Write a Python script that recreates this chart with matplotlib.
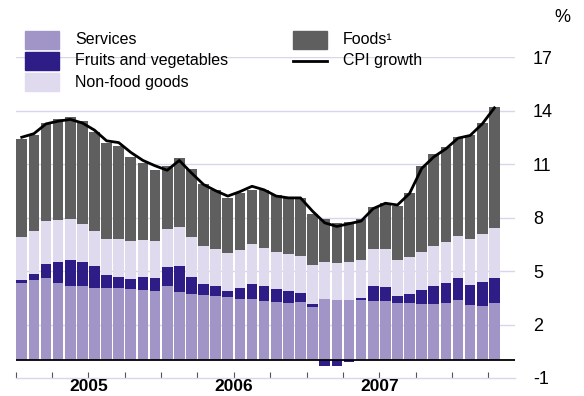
import numpy as np
import matplotlib
matplotlib.use("Agg")
import matplotlib.pyplot as plt
from matplotlib.patches import Rectangle
from matplotlib.lines import Line2D

plt.rcParams['font.family'] = ['Liberation Sans', 'DejaVu Sans']
plt.rcParams['axes.unicode_minus'] = False

##DATA## (Jan 2005 - Apr 2008, contributions in % points)
services = [4.34, 4.47, 4.62, 4.32, 4.17, 4.17, 4.07, 4.02, 4.07, 3.98, 3.94, 3.87,
            4.17, 3.83, 3.70, 3.64, 3.59, 3.55, 3.44, 3.44, 3.33, 3.27, 3.21, 3.27,
            2.99, 3.42, 3.36, 3.36, 3.36, 3.31, 3.31, 3.23, 3.21, 3.14, 3.14, 3.21,
            3.36, 3.07, 3.05, 3.20]
fruit_veg = [0.15, 0.37, 0.78, 1.16, 1.47, 1.36, 1.20, 0.78, 0.58, 0.58, 0.70, 0.73,
             1.06, 1.46, 0.97, 0.64, 0.58, 0.34, 0.62, 0.82, 0.84, 0.71, 0.68, 0.51,
             0.15, -0.32, -0.32, -0.13, 0.15, 0.84, 0.80, 0.36, 0.51, 0.79, 1.01, 1.13,
             1.22, 1.17, 1.34, 1.38]
nonfood = [2.39, 2.39, 2.41, 2.37, 2.25, 2.13, 2.00, 2.00, 2.12, 2.13, 2.09, 2.11,
           2.15, 2.15, 2.21, 2.11, 2.09, 2.11, 2.13, 2.23, 2.13, 2.09, 2.04, 2.05,
           2.19, 2.06, 2.10, 2.12, 2.10, 2.11, 2.11, 2.05, 2.04, 2.14, 2.26, 2.30,
           2.41, 2.56, 2.66, 2.84]
foods = [5.51, 5.41, 5.50, 5.65, 5.72, 5.74, 5.50, 5.39, 5.23, 4.71, 4.30, 3.96,
         3.52, 3.92, 3.83, 3.51, 3.27, 3.12, 3.16, 3.08, 3.23, 3.18, 3.14, 3.24,
         2.86, 2.43, 2.24, 2.28, 2.28, 2.34, 2.60, 3.00, 3.59, 4.81, 5.14, 5.32,
         5.50, 5.85, 6.26, 6.79]
cpi = [12.5, 12.7, 13.25, 13.4, 13.5, 13.3, 12.9, 12.3, 12.2, 11.65, 11.2, 10.9,
       10.65, 11.2, 10.5, 9.85, 9.5, 9.2, 9.45, 9.75, 9.55, 9.2, 9.1, 9.1,
       8.35, 7.7, 7.5, 7.65, 7.8, 8.5, 8.8, 8.7, 9.35, 10.75, 11.4, 11.85,
       12.45, 12.6, 13.25, 14.15]
years = ["2005", "2006", "2007"]
yticks = [-1, 2, 5, 8, 11, 14, 17]

c_serv = "#a194c7"
c_fv = "#2e1c87"
c_nf = "#dfdaee"
c_food = "#5f5f5f"
c_grid = "#d9d5ea"

fig = plt.figure(figsize=(5.84, 3.96), dpi=100)
ax = fig.add_axes([15.7 / 584, 1 - 378 / 396, (515 - 15.7) / 584, (378 - 57) / 396])

x = np.arange(len(services)) + 0.5
serv = np.array(services)
fv = np.array(fruit_veg)
nf = np.array(nonfood)
fd = np.array(foods)

# stack positives from zero, negatives below zero
fv_pos = np.where(fv > 0, fv, 0)
fv_neg = np.where(fv < 0, fv, 0)
w = 0.88
ax.bar(x, serv, width=w, color=c_serv, zorder=2)
ax.bar(x, fv_pos, width=w, bottom=serv, color=c_fv, zorder=2)
ax.bar(x, fv_neg, width=w, color=c_fv, zorder=2)
ax.bar(x, nf, width=w, bottom=serv + fv_pos, color=c_nf, zorder=2)
ax.bar(x, fd, width=w, bottom=serv + fv_pos + nf, color=c_food, zorder=2)
ax.plot(x, cpi, color="black", lw=2, zorder=4)

ax.axhline(0, color="black", lw=1.3, zorder=3)
for yy in yticks[1:]:
    ax.axhline(yy, color=c_grid, lw=1, zorder=1)

ax.set_xlim(0, 41.2)
ax.set_ylim(-1, 17)

for s in ["top", "left", "right"]:
    ax.spines[s].set_visible(False)
ax.spines["bottom"].set_color(c_grid)
ax.spines["bottom"].set_linewidth(1)

ax.yaxis.tick_right()
ax.set_yticks(yticks)
ax.set_yticklabels([str(v) for v in yticks])
ax.tick_params(axis="y", length=0, pad=13, labelsize=13)
for lab in ax.get_yticklabels():
    lab.set_horizontalalignment("left")

ax.set_xticks(np.arange(0, 40, 3))
ax.set_xticks([0, 12, 24, 36], minor=True)
ax.tick_params(axis="x", which="major", direction="in", length=4, color="#555555", labelbottom=False)
ax.tick_params(axis="x", which="minor", direction="in", length=9, color="#555555", width=1.2)
for i, yr in enumerate(years):
    ax.text(6 + 12 * i, -1.47, yr, ha="center", va="center", fontsize=12.5, fontweight="bold")

fig.text(562 / 584, 1 - 17 / 396, "%", ha="center", va="center", fontsize=13)

# legend
def patch(px, py, color):
    fig.add_artist(Rectangle((px / 584, 1 - (py + 9) / 396), 34 / 584, 18 / 396,
                             transform=fig.transFigure, color=color))

items = [(25, 40, c_serv, "Services"), (25, 61, c_fv, "Fruits and vegetables"),
         (25, 82, c_nf, "Non-food goods"), (293, 40, c_food, "Foods\u00b9")]
for px, py, col, lab in items:
    patch(px, py, col)
    fig.text((px + 50) / 584, 1 - py / 396, lab, ha="left", va="center", fontsize=11.5)
fig.add_artist(Line2D([293 / 584, 327 / 584], [1 - 61 / 396, 1 - 61 / 396],
                      transform=fig.transFigure, color="black", lw=2))
fig.text(343 / 584, 1 - 61 / 396, "CPI growth", ha="left", va="center", fontsize=11.5)

fig.savefig("out.png", dpi=100)
